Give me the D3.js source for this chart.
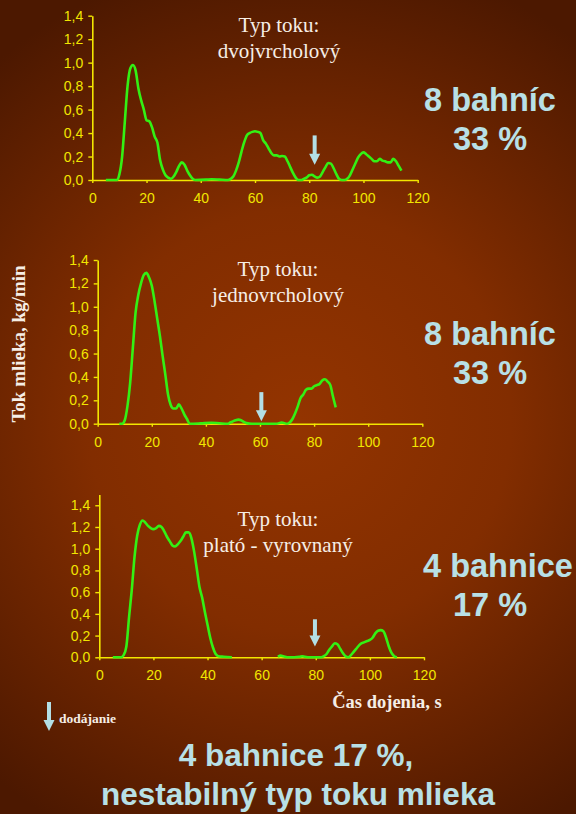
<!DOCTYPE html>
<html>
<head>
<meta charset="utf-8">
<script src="https://cdn.jsdelivr.net/npm/d3@7"></script>
<style>
body { margin:0; padding:0; background:#4e1a00; }
svg { display:block; }
</style>
</head>
<body>
<div id="drawing"></div>
<script>
"use strict"

/**** DATA ****/

// milk flow (time s, kg/min), one array per ewe type
let flow1 = [
[5,0],[9,0],[10,0.05],[11,0.2],[12,0.5],[13,0.8],[14,0.95],[15,0.98],[16,0.93],[17,0.78],
[18,0.68],[19,0.6],[20,0.51],[21,0.5],[22,0.45],[23,0.37],[24,0.32],[25,0.17],[26,0.09],
[27,0.04],[28,0.02],[29,0.01],[30,0.03],[31,0.07],[32,0.12],[33,0.15],[34,0.13],[35,0.08],
[36,0.04],[37,0.01],[38,0],[42,0.003],[44,0.006],[47,0.003],[50,0],[51,0.01],[52,0.03],[53,0.08],
[54,0.15],[55,0.24],[56,0.32],[57,0.38],[58,0.4],[59,0.41],[60,0.415],[61,0.41],[62,0.4],
[63,0.34],[64,0.31],[65,0.27],[66,0.23],[67,0.21],[68,0.21],[69,0.2],[70,0.205],[71,0.2],
[72,0.16],[73,0.11],[74,0.06],[75,0.02],[76,0],[77,0],[78,0.01],[79,0.02],[80,0.04],[81,0.045],
[82,0.03],[83,0.02],[84,0.03],[85,0.07],[86,0.11],[87,0.145],[88,0.14],[89,0.1],[90,0.05],
[91,0.01],[92,0],[93,0],[94,0.01],[95,0.04],[96,0.09],[97,0.14],[98,0.19],[99,0.22],[100,0.235],
[101,0.22],[102,0.2],[103,0.18],[104,0.16],[105,0.16],[106,0.18],[107,0.165],[108,0.16],
[109,0.15],[110,0.15],[111,0.18],[112,0.16],[113,0.12],[114,0.08]
]

let flow2 = [
[8,0],[9,0],[10,0.03],[11,0.15],[12,0.35],[13,0.65],[14,0.95],[15,1.1],[16,1.2],[17,1.27],
[18,1.29],[19,1.25],[20,1.18],[21,1.05],[22,0.9],[23,0.75],[24,0.58],[25,0.42],[26,0.25],
[27,0.16],[28,0.13],[29,0.13],[30,0.165],[31,0.13],[32,0.08],[33,0.04],[34,0],[38,0.003],
[42,0.008],[45,0.004],[48,0],[49,0.01],[50,0.02],[51,0.03],[52,0.035],[53,0.03],[54,0.015],
[55,0.005],[57,0],[66,0],[68,0.01],[70,0],[71,0.01],[72,0.04],[73,0.09],[74,0.15],[75,0.22],
[76,0.25],[77,0.29],[78,0.3],[79,0.3],[80,0.32],[81,0.33],[82,0.34],[83,0.37],[84,0.38],
[85,0.36],[86,0.33],[87,0.23],[88,0.14]
]

let flow3 = [
[5,0],[8,0],[9,0.02],[10,0.1],[11,0.37],[12,0.62],[13,0.92],[14,1.12],[15,1.22],[16,1.26],
[17,1.24],[18,1.21],[19,1.19],[20,1.18],[21,1.19],[22,1.21],[23,1.2],[24,1.16],[25,1.11],
[26,1.07],[27,1.03],[28,1.02],[29,1.04],[30,1.07],[31,1.11],[32,1.15],[33,1.15],[34,1.1],
[35,0.98],[36,0.82],[37,0.65],[38,0.55],[39,0.42],[40,0.3],[41,0.18],[42,0.09],[43,0.03],
[44,0.01],[46,0.005],[49,0],[50,null],
[66,0.005],[67,0.015],[68,0.01],[70,0],[74,0.005],[75,0.01],[76,0.005],[78,0],[82,0],
[83,0.01],[84,0.03],[85,0.07],[86,0.1],[87,0.13],[88,0.12],[89,0.08],[90,0.04],[91,0.01],
[92,0],[93,0.02],[94,0.05],[95,0.08],[96,0.11],[97,0.13],[98,0.14],[99,0.15],[100,0.16],
[101,0.18],[102,0.22],[103,0.245],[104,0.25],[105,0.24],[106,0.18],[107,0.1],[108,0.04],
[109,0.01],[110,0]
]

// "dodájanie" arrows: time, value at top, value at tip
let arrowTimes = [82, 60.5, 79.7]
let arrowTop = [0.38, 0.27, 0.35]
let arrowTip = [0.13, 0.02, 0.1]

let flowTypes = ["dvojvrcholový", "jednovrcholový", "plató - vyrovnaný"]
let eweCounts = ["8 bahníc", "8 bahníc", "4 bahnice"]
let eweShares = ["33 %", "33 %", "17 %"]

let xTicks = [0, 20, 40, 60, 80, 100, 120]
let yTicks = [0, 0.2, 0.4, 0.6, 0.8, 1.0, 1.2, 1.4]


/**** CANVAS SETUP ****/

let svgWidth = 576
let svgHeight = 814

let svg = d3.select("#drawing")
.append("svg")
.attr("width", svgWidth)
.attr("height", svgHeight)

let defs = svg.append("defs")
let grad = defs.append("radialGradient")
.attr("id", "bg")
.attr("gradientUnits", "userSpaceOnUse")
.attr("cx", 300).attr("cy", 420).attr("r", 470)
grad.append("stop").attr("offset", "0%").attr("stop-color", "#933400")
grad.append("stop").attr("offset", "45%").attr("stop-color", "#822d00")
grad.append("stop").attr("offset", "100%").attr("stop-color", "#4c1800")

svg.append("rect")
.attr("width", svgWidth)
.attr("height", svgHeight)
.attr("fill", "url(#bg)")


/**** PANELS ****/

let panels = [
{data: flow1, left: 92.3, right: 417.7, bottom: 180, top: 15.7, yMax: 1.4, titleX: 279, titleY: 32, countY: 111},
{data: flow2, left: 97.7, right: 422.3, bottom: 423.7, top: 260, yMax: 1.4, titleX: 278, titleY: 276, countY: 345},
{data: flow3, left: 99.3, right: 424, bottom: 657.3, top: 494.4, yMax: 1.5, titleX: 278, titleY: 526, countY: 577}
]

let axisColor = "#f2e600"
let lineColor = "#33f014"
let arrowColor = "#b3dfe6"
let labelColor = "#b8e0e6"

function drawArrow(g, x, y1, y2) {
    g.append("line")
    .attr("x1", x).attr("x2", x)
    .attr("y1", y1).attr("y2", y2 - 10)
    .attr("stroke", arrowColor)
    .attr("stroke-width", 4)
    g.append("path")
    .attr("d", "M" + (x - 5.5) + "," + (y2 - 11) + " L" + (x + 5.5) + "," + (y2 - 11) + " L" + x + "," + y2 + " Z")
    .attr("fill", arrowColor)
}

panels.forEach(function(p, i) {

    let xScale = d3.scaleLinear()
    .domain([0, 120])
    .range([p.left, p.right])

    let yScale = d3.scaleLinear()
    .domain([0, 1.4])
    .range([p.bottom, p.bottom - (p.bottom - p.top) * 1.4 / p.yMax])

    let yAxisScale = d3.scaleLinear()
    .domain([0, p.yMax])
    .range([p.bottom, p.top])

    let yAxis = svg.append("g")
    .attr("transform", "translate(" + p.left + ",0)")
    .call(d3.axisLeft(yAxisScale)
        .tickValues(yTicks)
        .tickSize(4)
        .tickSizeOuter(0)
        .tickPadding(5)
        .tickFormat(d => d3.format(".1f")(d).replace(".", ",")))

    let xAxis = svg.append("g")
    .attr("transform", "translate(0," + p.bottom + ")")
    .call(d3.axisBottom(xScale)
        .tickValues(xTicks)
        .tickSize(3)
        .tickSizeOuter(0)
        .tickPadding(10))

    ;[xAxis, yAxis].forEach(function(a) {
        a.select(".domain").attr("stroke", axisColor).attr("stroke-width", 1.6)
        a.selectAll(".tick line").attr("stroke", axisColor).attr("stroke-width", 1.4)
        a.selectAll(".tick text")
        .attr("fill", axisColor)
        .style("font-family", "Liberation Sans, Arial, sans-serif")
        .style("font-size", "14px")
    })

    let line = d3.line()
    .defined(d => d[1] !== null)
    .x(d => xScale(d[0]))
    .y(d => yScale(d[1]))
    .curve(d3.curveMonotoneX)

    svg.append("path")
    .datum(p.data)
    .attr("d", line)
    .attr("fill", "none")
    .attr("stroke", lineColor)
    .attr("stroke-width", 2.6)
    .attr("stroke-linejoin", "round")

    drawArrow(svg, xScale(arrowTimes[i]), yScale(arrowTop[i]), yScale(arrowTip[i]))

    // title
    svg.append("text")
    .attr("x", p.titleX)
    .attr("y", p.titleY)
    .attr("text-anchor", "middle")
    .attr("fill", "#f6eee6")
    .style("font-family", "Liberation Serif, Times New Roman, serif")
    .style("font-size", "21px")
    .text("Typ toku:")

    svg.append("text")
    .attr("x", p.titleX)
    .attr("y", p.titleY + 26)
    .attr("text-anchor", "middle")
    .attr("fill", "#f6eee6")
    .style("font-family", "Liberation Serif, Times New Roman, serif")
    .style("font-size", "21px")
    .text(flowTypes[i])

    // counts on the right
    svg.append("text")
    .attr("x", i == 2 ? 498 : 490)
    .attr("y", p.countY)
    .attr("text-anchor", "middle")
    .attr("fill", labelColor)
    .style("font-family", "Liberation Sans, Arial, sans-serif")
    .style("font-weight", "bold")
    .style("font-size", "32.5px")
    .text(eweCounts[i])

    svg.append("text")
    .attr("x", 490)
    .attr("y", p.countY + 39)
    .attr("text-anchor", "middle")
    .attr("fill", labelColor)
    .style("font-family", "Liberation Sans, Arial, sans-serif")
    .style("font-weight", "bold")
    .style("font-size", "32.5px")
    .text(eweShares[i])
})


/**** AXIS LABELS ****/

svg.append("text")
.attr("transform", "rotate(-90)")
.attr("x", -344)
.attr("y", 25)
.attr("text-anchor", "middle")
.attr("fill", "#f6eee6")
.style("font-family", "Liberation Serif, Times New Roman, serif")
.style("font-weight", "bold")
.style("font-size", "19px")
.text("Tok mlieka, kg/min")

svg.append("text")
.attr("x", 387)
.attr("y", 708)
.attr("text-anchor", "middle")
.attr("fill", "#f6eee6")
.style("font-family", "Liberation Serif, Times New Roman, serif")
.style("font-weight", "bold")
.style("font-size", "18.5px")
.text("Čas dojenia, s")


/**** LEGEND ****/

drawArrow(svg, 49, 702, 731)

svg.append("text")
.attr("x", 59)
.attr("y", 723)
.attr("fill", "#f6eee6")
.style("font-family", "Liberation Serif, Times New Roman, serif")
.style("font-weight", "bold")
.style("font-size", "13.5px")
.text("dodájanie")


/**** BOTTOM NOTE ****/

svg.append("text")
.attr("x", 296)
.attr("y", 766)
.attr("text-anchor", "middle")
.attr("fill", labelColor)
.style("font-family", "Liberation Sans, Arial, sans-serif")
.style("font-weight", "bold")
.style("font-size", "31.5px")
.text("4 bahnice 17 %,")

svg.append("text")
.attr("x", 298)
.attr("y", 805)
.attr("text-anchor", "middle")
.attr("fill", labelColor)
.style("font-family", "Liberation Sans, Arial, sans-serif")
.style("font-weight", "bold")
.style("font-size", "31.5px")
.text("nestabilný typ toku mlieka")
</script>
</body>
</html>
